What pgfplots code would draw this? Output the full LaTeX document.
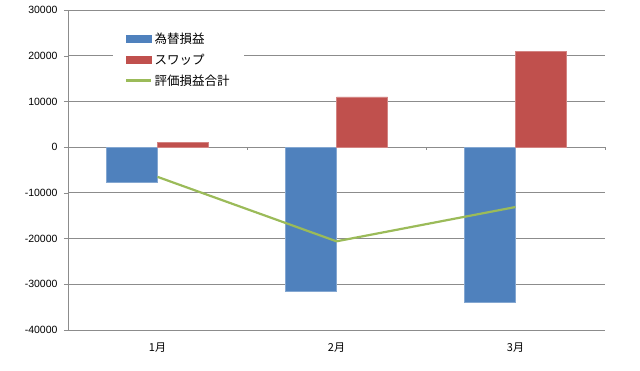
\documentclass[border=0pt]{standalone}
\usepackage{pgfplots}
\pgfplotsset{compat=1.18}
\usepackage{fontspec}
\setmainfont{Liberation Sans}
\newfontfamily\jp{Noto Sans CJK JP}
\definecolor{cblue}{HTML}{4F81BD}
\definecolor{cred}{HTML}{C0504D}
\definecolor{cgreen}{HTML}{9BBB59}
\definecolor{cgrid}{HTML}{8C8C8C}
\begin{document}
\begin{tikzpicture}[x=1pt,y=1pt]
\path[use as bounding box] (0,0) rectangle (640,370);
\begin{axis}[
  at={(68pt,40pt)}, anchor=south west, scale only axis,
  width=537pt, height=320pt,
  xmin=-0.5, xmax=2.5, ymin=-40000, ymax=30000,
  ytick={-40000,-30000,...,30000},
  xtick={0,1,2}, xticklabels={1月,2月,3月},
  xticklabel style={font=\jp\fontsize{11}{13}\selectfont, yshift=-5pt},
  yticklabel style={font=\fontsize{10.5}{12}\selectfont, xshift=-3pt},
  /pgf/number format/assume math mode=true,
  /pgf/number format/1000 sep={},
  scaled y ticks=false,
  axis x line*=bottom, axis y line*=left,
  x axis line style={cgrid, -}, y axis line style={cgrid, -},
  major x tick style={draw=none},
  major y tick style={cgrid},
  tick align=outside, major tick length=4pt,
  ymajorgrids, grid style={cgrid, line width=0.8pt},
  legend style={at={(0.084,0.955)}, anchor=north west, draw=none, fill=white,
    font=\jp\fontsize{12.5}{14}\selectfont, legend cell align=left,
    inner xsep=12pt, inner ysep=6pt, row sep=5pt},
  clip=false,
]
\addplot[ybar, bar width=51pt, bar shift=-25.5pt, fill=cblue, draw=cblue!70!white,
  legend image code/.code={\fill[cblue] (0pt,-3.5pt) rectangle (25pt,3.5pt);}]
  coordinates {(0,-7600) (1,-31600) (2,-34000)};
\addlegendentry{為替損益}
\addplot[ybar, bar width=51pt, bar shift=25.5pt, fill=cred, draw=cred!70!white,
  legend image code/.code={\fill[cred] (0pt,-3.5pt) rectangle (25pt,3.5pt);}]
  coordinates {(0,1100) (1,11000) (2,20900)};
\addlegendentry{スワップ}
\addplot[cgreen, line width=2.2pt, mark=none, sharp plot,
  legend image code/.code={\draw[cgreen, line width=2.2pt] (0pt,0pt) -- (25pt,0pt);}]
  coordinates {(0,-6500) (1,-20600) (2,-13100)};
\addlegendentry{評価損益合計}
\draw[cgrid] (axis cs:0.5,0) -- ++(0pt,-3pt);
\draw[cgrid] (axis cs:1.5,0) -- ++(0pt,-3pt);
\draw[cgrid] (axis cs:2.5,0) -- ++(0pt,-3pt);
\end{axis}
\end{tikzpicture}
\end{document}
